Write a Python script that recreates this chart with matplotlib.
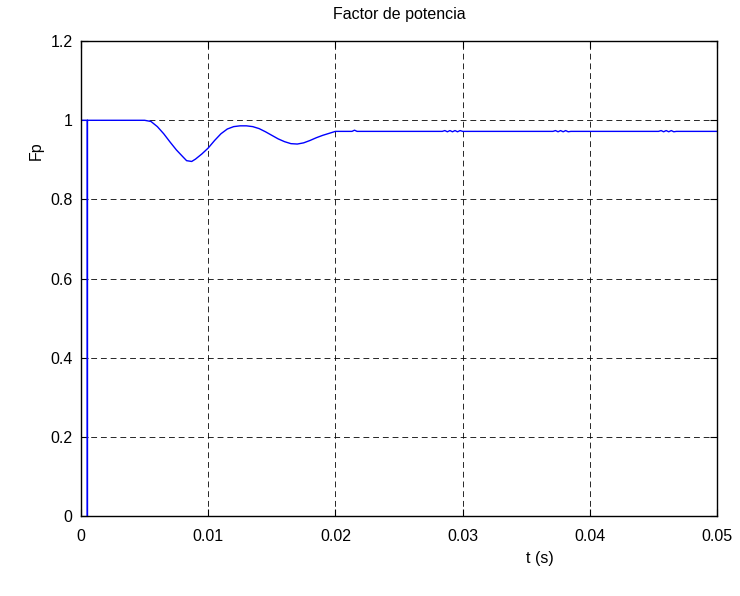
import matplotlib
matplotlib.use("Agg")
import matplotlib.pyplot as plt

plt.rcParams['font.family'] = ['Liberation Sans', 'DejaVu Sans']

# data
t_start = [0.0, 0.0, 0.0005, 0.0005, 0.0005]
fp_start = [0.0, 1.0, 1.0, 0.0, 1.0]

t_dip = [0.0050, 0.0055, 0.0060, 0.0065, 0.0070, 0.0075, 0.0080, 0.0083, 0.0087,
         0.0090, 0.0095, 0.0100, 0.0105, 0.0110, 0.0115, 0.0120, 0.0125, 0.0130,
         0.0135, 0.0140, 0.0145, 0.0150, 0.0155, 0.0160, 0.0165, 0.0170, 0.0175,
         0.0180, 0.0185, 0.0190, 0.0195, 0.0200]
fp_dip = [1.000, 0.997, 0.984, 0.966, 0.945, 0.925, 0.908, 0.898, 0.896,
          0.902, 0.915, 0.930, 0.949, 0.966, 0.978, 0.984, 0.986, 0.986,
          0.984, 0.979, 0.971, 0.962, 0.953, 0.946, 0.941, 0.940, 0.943,
          0.949, 0.956, 0.962, 0.967, 0.972]

t_tail = [0.0213, 0.0215, 0.0217,
          0.0284, 0.0286, 0.0288, 0.0290, 0.0292, 0.0294, 0.0296, 0.0298, 0.0300,
          0.0371, 0.0373, 0.0375, 0.0377, 0.0379, 0.0381, 0.0383, 0.0385,
          0.0454, 0.0456, 0.0458, 0.0460, 0.0462, 0.0464, 0.0466, 0.0468, 0.0500]
fp_tail = [0.972, 0.975, 0.972,
           0.972, 0.974, 0.971, 0.974, 0.971, 0.974, 0.971, 0.974, 0.972,
           0.972, 0.974, 0.971, 0.974, 0.971, 0.974, 0.971, 0.972,
           0.972, 0.974, 0.971, 0.974, 0.971, 0.974, 0.971, 0.972, 0.972]

t = t_start + t_dip + t_tail
fp = fp_start + fp_dip + fp_tail

x_ticks = [0, 0.01, 0.02, 0.03, 0.04, 0.05]
x_ticklabels = ['0', '0.01', '0.02', '0.03', '0.04', '0.05']
y_ticks = [0, 0.2, 0.4, 0.6, 0.8, 1.0, 1.2]
y_ticklabels = ['0', '0.2', '0.4', '0.6', '0.8', '1', '1.2']

fig = plt.figure(figsize=(7.4, 5.96), dpi=100)
ax = fig.add_axes([0.1095, 0.134, 0.8595, 0.797])
ax.plot(t, fp, color='#0000ff', linewidth=1.0)

ax.set_xlim(0, 0.05)
ax.set_ylim(0, 1.2)
ax.set_xticks(x_ticks)
ax.set_xticklabels(x_ticklabels)
ax.set_yticks(y_ticks)
ax.set_yticklabels(y_ticklabels)

ax.grid(True, color='black', linestyle=(0, (6, 4)), linewidth=0.7, alpha=0.85)
ax.tick_params(direction='in', top=True, right=True, labelsize=11.5, length=5,
               width=0.8)
ax.tick_params(axis='x', pad=9)
ax.tick_params(axis='y', pad=6)
for s in ax.spines.values():
    s.set_linewidth(1.0)
    s.set_color('black')

ax.set_title('Factor de potencia', fontsize=11.5, pad=16)
ax.set_xlabel('t (s)', fontsize=11.5)
ax.xaxis.set_label_coords(0.722, -0.074)
ax.set_ylabel('Fp', fontsize=11.5, rotation=90)
ax.yaxis.set_label_coords(-0.058, 0.77)

fig.savefig('out.png', dpi=100, facecolor='white')
